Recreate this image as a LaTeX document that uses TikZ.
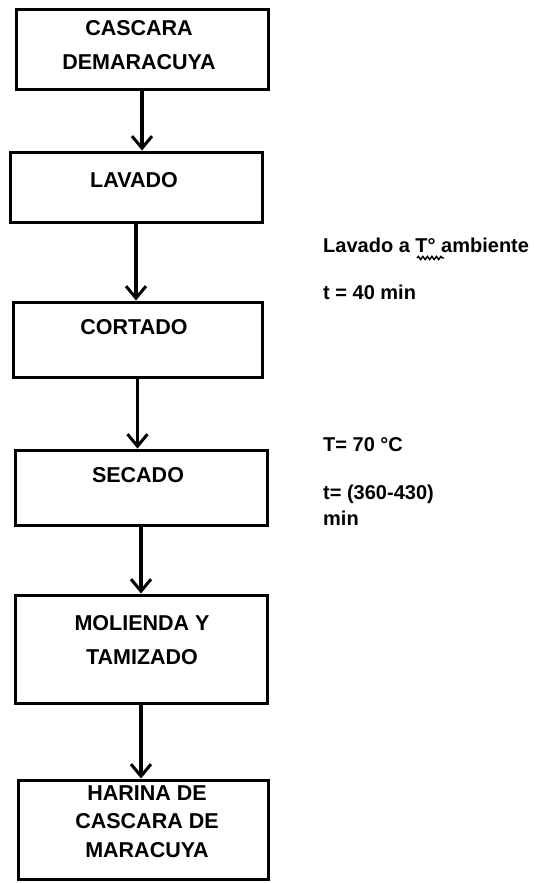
\documentclass[tikz,border=0pt]{standalone}
\usepackage{fontspec}
\setmainfont{Liberation Sans}
\usetikzlibrary{arrows.meta,decorations.pathmorphing}
\tikzset{
  stepbox/.style={draw=black, line width=3pt, inner sep=0pt},
  boxtext/.style={align=center, font=\bfseries\fontsize{21.5}{34}\selectfont, inner sep=0pt},
  note/.style={anchor=west, align=left, font=\bfseries\fontsize{20}{26}\selectfont, inner sep=0pt},
  flow/.style={line width=3.2pt, -{Straight Barb[length=12pt,width=20pt,line width=3pt]}}
}
\begin{document}
\begin{tikzpicture}[x=1pt,y=-1pt]
\useasboundingbox (0,0) rectangle (533,883);
% boxes
\node[stepbox, minimum width=252pt, minimum height=79pt] (b1) at (142,49.5) {};
\node[stepbox, minimum width=252pt, minimum height=70pt] (b2) at (136,187) {};
\node[stepbox, minimum width=249pt, minimum height=75pt] (b3) at (137.5,339.5) {};
\node[stepbox, minimum width=252pt, minimum height=75pt] (b4) at (141,487.5) {};
\node[stepbox, minimum width=252pt, minimum height=108pt] (b5) at (141,649) {};
\node[stepbox, minimum width=250pt, minimum height=99pt] (b6) at (143,829.5) {};
% box texts
\node[boxtext] (t1) at (139,45) {CASCARA\\DEMARACUYA};
\node[boxtext] (t2) at (134,180) {LAVADO};
\node[boxtext] (t3) at (134,327) {CORTADO};
\node[boxtext] (t4) at (138,475) {SECADO};
\node[boxtext] (t5) at (142,640) {MOLIENDA Y\\TAMIZADO};
\node[boxtext, font=\bfseries\fontsize{21.5}{28.5}\selectfont] (t6) at (147,821.5) {HARINA DE\\CASCARA DE\\MARACUYA};
% arrows
\draw[flow] (b1.south) -- (b1.south |- b2.north);
\draw[flow] (b2.south) -- (b2.south |- b3.north);
\draw[flow] (b3.south) -- (b3.south |- b4.north);
\draw[flow] (b4.south) -- (b4.south |- b5.north);
\draw[flow] (b5.south) -- (b5.south |- b6.north);
% notes
\node[note] (n1) at (323,245) {Lavado a T° ambiente};
\node[note] (n2) at (323,292) {t = 40 min};
\node[note] (n3) at (323,445) {T= 70 °C};
\node[note] (n4) at (323,505) {t= (360-430)\\min};
\coordinate (w1) at (417,258);
\coordinate (w2) at (444,258);
\draw[line width=1.4pt, decorate, decoration={snake, amplitude=1.6pt, segment length=4.5pt}] (w1) -- (w2);
\end{tikzpicture}
\end{document}
